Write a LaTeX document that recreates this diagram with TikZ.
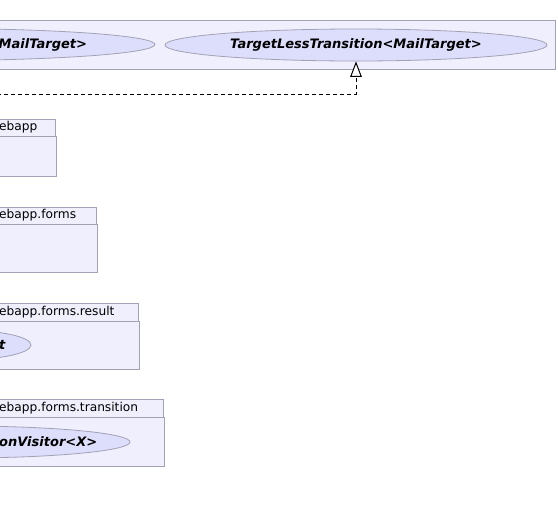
\documentclass[tikz,border=0pt]{standalone}
\usepackage{fontspec}
\setmainfont{DejaVu Sans}
\usetikzlibrary{positioning,shapes.geometric,arrows.meta}
\definecolor{pkgfill}{HTML}{EFEFFD}
\definecolor{casefill}{HTML}{DDDDFC}
\definecolor{pkgline}{HTML}{A2A2B6}
\tikzstyle{pkgbody}=[rectangle, draw=pkgline, fill=pkgfill, line width=1pt, inner sep=0pt, outer sep=0pt, anchor=north east]
\tikzstyle{pkgtab}=[pkgbody, anchor=south east]
\tikzstyle{pkgname}=[inner sep=0pt, anchor=west, text=black]
\tikzstyle{usecase}=[ellipse, draw=pkgline, fill=casefill, line width=0.8pt, inner sep=0pt, minimum height=32pt]
\tikzstyle{casename}=[inner sep=0pt, font=\fontsize{13}{15}\selectfont\bfseries\itshape]
\tikzstyle{realize}=[-{Triangle[open, fill=white, length=15.5pt, width=11.6pt]}, line width=1pt, dash pattern=on 4pt off 3pt]

\begin{document}
\begin{tikzpicture}[x=1pt, y=-1pt, font=\fontsize{12.2}{14}\selectfont]
    \useasboundingbox (0,0) rectangle (558,512);

    % top package
    \node (MailPkg) [pkgbody, minimum width=585.5pt, minimum height=49pt] at (555.5,20) {};
    \node (AbstractCase) [usecase, minimum width=444pt] at (-67,44.5) {};
    \node (AbstractName) [casename, anchor=west] at (-1.5,44.5) {MailTarget>};
    \node (TargetLess) [usecase, casename, minimum width=382pt, minimum height=32pt] at (356,45) {TargetLessTransition<MailTarget>};

    % webapp
    \node (WebappBody) [pkgbody, minimum width=86.5pt, minimum height=40pt] at (56.5,136) {};
    \node (WebappTab) [pkgtab, minimum width=85pt, minimum height=17pt] at (55,136) {};
    \node (WebappName) [pkgname] at (-1,127.5) {ebapp};

    % webapp.forms
    \node (FormsBody) [pkgbody, minimum width=127pt, minimum height=48pt] at (97,224) {};
    \node (FormsTab) [pkgtab, minimum width=126pt, minimum height=17pt] at (96,224) {};
    \node (FormsName) [pkgname] at (-1,215.5) {ebapp.forms};

    % webapp.forms.result
    \node (ResultBody) [pkgbody, minimum width=169pt, minimum height=48pt] at (139,321) {};
    \node (ResultTab) [pkgtab, minimum width=168pt, minimum height=18pt] at (138,321) {};
    \node (ResultName) [pkgname] at (-1,312) {ebapp.forms.result};
    \node (ResultCase) [usecase, minimum width=142pt, minimum height=30pt] at (-40,345) {};
    \node (ResultLabel) [casename, anchor=east] at (5.5,345) {t};

    % webapp.forms.transition
    \node (TransBody) [pkgbody, minimum width=194pt, minimum height=49pt] at (164,417) {};
    \node (TransTab) [pkgtab, minimum width=193pt, minimum height=18pt] at (163,417) {};
    \node (TransName) [pkgname] at (-1,408) {ebapp.forms.transition};
    \node (VisitorCase) [usecase, minimum width=340pt] at (-40,442) {};
    \node (VisitorLabel) [casename, anchor=west] at (-1,442) {onVisitor<X>};

    \coordinate (Source) at (-10,94);
    \draw[realize] (Source) -| (TargetLess.south);

\end{tikzpicture}
\end{document}
